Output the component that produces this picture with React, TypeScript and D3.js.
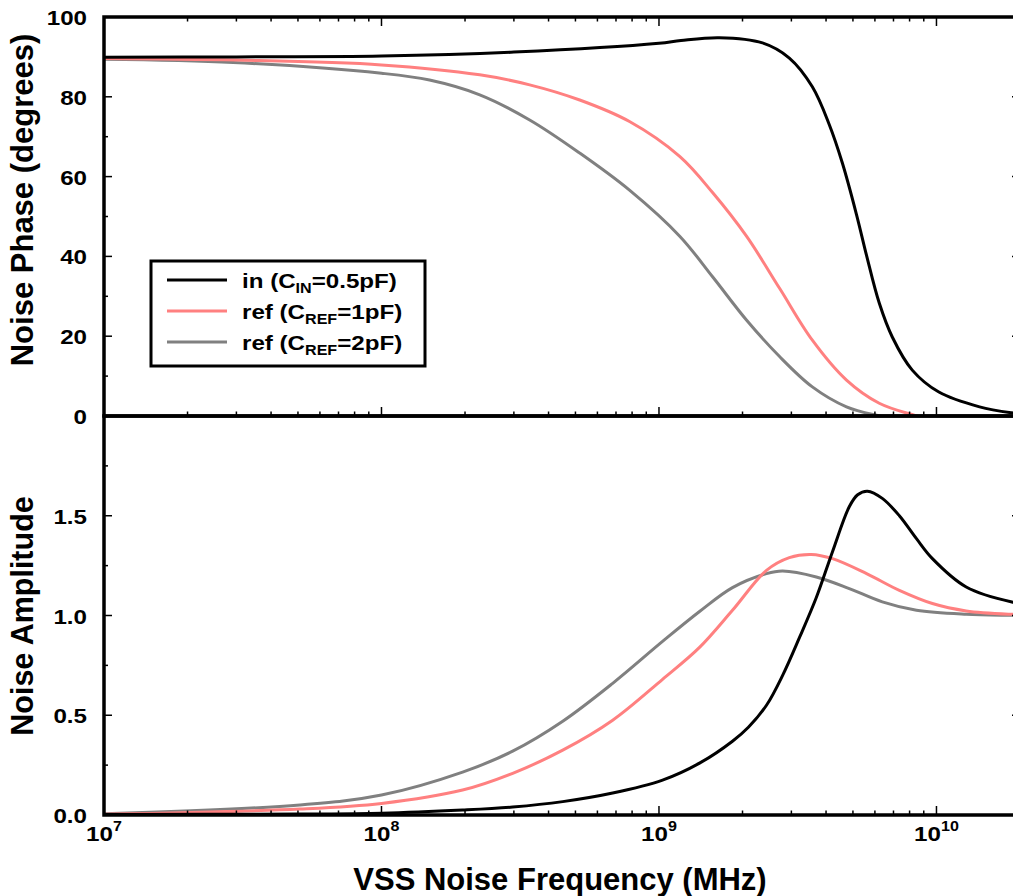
import React from 'react';
import * as d3 from 'd3';

// Frequency (MHz) vs value
const phaseIn: [number, number][] = [
  [1e7, 89.9], [3e7, 90.0], [1e8, 90.2], [3e8, 91.2], [1e9, 93.4], [1.2e9, 94.1],
  [1.65e9, 94.8], [2.36e9, 93.5], [2.95e9, 89.7], [3.57e9, 82.5], [4.11e9, 73.0],
  [4.58e9, 63.4], [5.15e9, 50.5], [5.6e9, 40.2], [6.22e9, 28.3], [6.93e9, 19.8],
  [8.18e9, 11.5], [1.02e10, 6.0], [1.43e10, 2.3], [1.87e10, 0.8], [2e10, 0.6],
];
const phaseRef1: [number, number][] = [
  [1e7, 89.6], [3e7, 89.2], [1e8, 88.0], [2.26e8, 85.5], [3.42e8, 83.0], [5.18e8, 79.2],
  [7.83e8, 73.8], [1.19e9, 65.0], [1.56e9, 56.0], [2.07e9, 45.0], [2.72e9, 32.0],
  [3.57e9, 19.0], [4.74e9, 9.0], [6.22e9, 3.2], [8.47e9, 0.0], [1e10, -1.5],
];
const phaseRef2: [number, number][] = [
  [1e7, 89.4], [2.92e7, 88.6], [1e8, 85.9], [1.49e8, 84.2], [2.26e8, 80.5], [3.42e8, 74.2],
  [5.18e8, 65.9], [7.83e8, 56.6], [1.19e9, 45.0], [1.56e9, 34.9], [2.07e9, 24.0],
  [2.72e9, 14.9], [3.57e9, 7.3], [4.74e9, 2.3], [6.22e9, 0.0], [8e9, -1.5],
];
const ampIn: [number, number][] = [
  [1e7, 0.002], [5e7, 0.005], [1e8, 0.009], [1.96e8, 0.025], [2.97e8, 0.04], [4.5e8, 0.067],
  [6.81e8, 0.11], [1.03e9, 0.175], [1.4e9, 0.26], [1.84e9, 0.37], [2.1e9, 0.44],
  [2.44e9, 0.55], [2.79e9, 0.70], [3.21e9, 0.89], [3.69e9, 1.09], [4.22e9, 1.32],
  [4.85e9, 1.545], [5.2e9, 1.605], [5.64e9, 1.623], [6.38e9, 1.587], [7.35e9, 1.50],
  [8.47e9, 1.385], [9.67e9, 1.285], [1.28e10, 1.143], [1.87e10, 1.068], [2e10, 1.063],
];
const ampRef1: [number, number][] = [
  [1e7, 0.004], [5.08e7, 0.03], [1e8, 0.058], [1.96e8, 0.125], [2.97e8, 0.209], [4.5e8, 0.325],
  [6.81e8, 0.475], [1.03e9, 0.68], [1.4e9, 0.84], [1.84e9, 1.026], [2.44e9, 1.226],
  [2.95e9, 1.29], [3.54e9, 1.306], [4.22e9, 1.285], [5.6e9, 1.21], [7.35e9, 1.126],
  [9.67e9, 1.06], [1.28e10, 1.023], [1.87e10, 1.006], [2e10, 1.005],
];
const ampRef2: [number, number][] = [
  [1e7, 0.006], [5.08e7, 0.05], [1e8, 0.10], [1.96e8, 0.215], [2.97e8, 0.32], [4.5e8, 0.47],
  [6.81e8, 0.66], [1.03e9, 0.87], [1.4e9, 1.02], [1.84e9, 1.14], [2.44e9, 1.21],
  [2.79e9, 1.223], [3.69e9, 1.193], [4.85e9, 1.135], [6.38e9, 1.068], [8.47e9, 1.026],
  [1.28e10, 1.006], [1.87e10, 1.001], [2e10, 1.0],
];

const phaseTicks = [0, 20, 40, 60, 80, 100];
const phaseMinor = [10, 30, 50, 70, 90];
const ampTicks = [0, 0.5, 1.0, 1.5];
const ampTickLabels = ['0.0', '0.5', '1.0', '1.5'];
const ampMinor = [0.25, 0.75, 1.25, 1.75];
const decadeExps = [7, 8, 9, 10];

const series = [
  { name: 'in', sub: 'IN', rest: '=0.5pF)', color: '#000000', phase: phaseIn, amp: ampIn },
  { name: 'ref', sub: 'REF', rest: '=1pF)', color: '#ff8080', phase: phaseRef1, amp: ampRef1 },
  { name: 'ref', sub: 'REF', rest: '=2pF)', color: '#808080', phase: phaseRef2, amp: ampRef2 },
];

const W = 1013, H = 896;
const L = 104, R = 1020, T1 = 17, B1 = 416, T2 = 416, B2 = 815;
const FONT = '"Liberation Sans", Arial, Helvetica, sans-serif';
const SX = 1.15;

export default function App() {
  const x = d3.scaleLog().domain([1e7, 2e10]).range([L, R]);
  const yP = d3.scaleLinear().domain([0, 100]).range([B1, T1]);
  const yA = d3.scaleLinear().domain([0, 2]).range([B2, T2]);
  const curve = d3.curveCatmullRom.alpha(0.5);
  const lineP = d3.line<[number, number]>().x(d => x(d[0])).y(d => yP(d[1])).curve(curve);
  const lineA = d3.line<[number, number]>().x(d => x(d[0])).y(d => yA(d[1])).curve(curve);
  const xt = x.ticks();
  const isMajor = (v: number) => Math.abs(Math.log10(v) - Math.round(Math.log10(v))) < 1e-6;
  const MJ = 9, MN = 4.5;

  const xTickMarks = (yy: number, dir: number, key: string) =>
    xt.map((v, i) => {
      const len = isMajor(v) ? MJ : MN;
      return <line key={key + i} x1={x(v)} x2={x(v)} y1={yy} y2={yy + dir * len} stroke="#000" strokeWidth={1.5} />;
    });

  const yTickMarks = (vals: number[], sc: (v: number) => number, len: number, key: string) =>
    vals.map((v, i) => (
      <g key={key + i}>
        <line x1={L} x2={L + len} y1={sc(v)} y2={sc(v)} stroke="#000" strokeWidth={1.5} />
        <line x1={R} x2={R - len} y1={sc(v)} y2={sc(v)} stroke="#000" strokeWidth={1.5} />
      </g>
    ));

  return (
    <svg width={W} height={H} style={{ position: 'absolute', left: 0, top: 0, background: '#fff' }}
      fontFamily={FONT} fontWeight="bold">
      <defs>
        <clipPath id="cp1"><rect x={L} y={T1} width={R - L} height={B1 - T1} /></clipPath>
        <clipPath id="cp2"><rect x={L} y={T2} width={R - L} height={B2 - T2} /></clipPath>
      </defs>
      <rect x={0} y={0} width={W} height={H} fill="#fff" />

      {/* curves */}
      <g clipPath="url(#cp1)">
        {series.slice().reverse().map((s, i) => (
          <path key={'p' + i} d={lineP(s.phase) || ''} fill="none" stroke={s.color} strokeWidth={3} />
        ))}
      </g>
      <g clipPath="url(#cp2)">
        {series.slice().reverse().map((s, i) => (
          <path key={'a' + i} d={lineA(s.amp) || ''} fill="none" stroke={s.color} strokeWidth={3} />
        ))}
      </g>

      {/* ticks */}
      {xTickMarks(T1, 1, 'xt')}
      {xTickMarks(B1, -1, 'xm')}
      {xTickMarks(B2, -1, 'xb')}
      {yTickMarks(phaseTicks, yP, 8, 'pM')}
      {yTickMarks(phaseMinor, yP, 4, 'pm')}
      {yTickMarks(ampTicks, yA, 8, 'aM')}
      {yTickMarks(ampMinor, yA, 4, 'am')}

      {/* frames */}
      <rect x={L} y={T1} width={R - L} height={B1 - T1} fill="none" stroke="#000" strokeWidth={3.5} />
      <rect x={L} y={T2} width={R - L} height={B2 - T2} fill="none" stroke="#000" strokeWidth={3.5} />

      {/* y tick labels */}
      {phaseTicks.map((v, i) => (
        <text key={'pl' + i} transform={`translate(87,${yP(v) + 8}) scale(${SX},1)`} textAnchor="end" fontSize={21}>{v}</text>
      ))}
      {ampTicks.map((v, i) => (
        <text key={'al' + i} transform={`translate(87,${yA(v) + 8}) scale(${SX},1)`} textAnchor="end" fontSize={21}>{ampTickLabels[i]}</text>
      ))}

      {/* x tick labels */}
      {decadeExps.map((e, i) => (
        <text key={'xl' + i} transform={`translate(${x(Math.pow(10, e))},841) scale(${SX},1)`} textAnchor="middle" fontSize={21}>
          <tspan>10</tspan><tspan dy={-10} fontSize={14}>{e}</tspan>
        </text>
      ))}

      {/* axis titles */}
      <text x={560} y={890} textAnchor="middle" fontSize={31}>VSS Noise Frequency (MHz)</text>
      <text transform={`translate(33,200) rotate(-90)`} textAnchor="middle" fontSize={31}>Noise Phase (degrees)</text>
      <text transform={`translate(33,616) rotate(-90)`} textAnchor="middle" fontSize={30.5}>Noise Amplitude</text>

      {/* legend */}
      <rect x={151} y={261} width={274} height={105} fill="#fff" stroke="#000" strokeWidth={3} />
      {series.map((s, i) => {
        const yy = 280 + i * 31;
        return (
          <g key={'lg' + i}>
            <line x1={167} x2={227} y1={yy} y2={yy} stroke={s.color} strokeWidth={3} />
            <text transform={`translate(242,${yy + 8}) scale(${SX},1)`} fontSize={21}>
              <tspan>{s.name} (C</tspan>
              <tspan dy={5} fontSize={14}>{s.sub}</tspan>
              <tspan dy={-5}>{s.rest}</tspan>
            </text>
          </g>
        );
      })}
    </svg>
  );
}
